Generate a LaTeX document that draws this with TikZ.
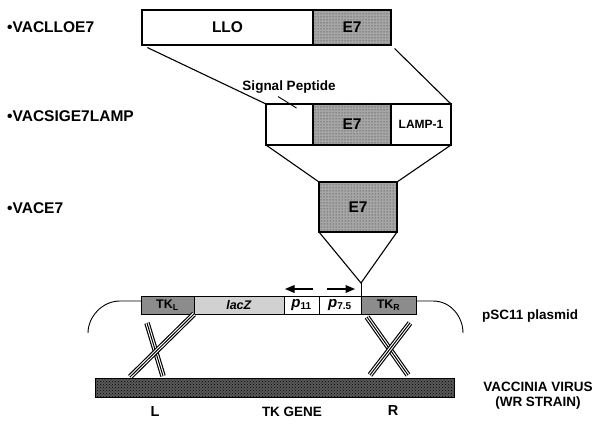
\documentclass[tikz,border=0pt]{standalone}
\usepackage{fontspec}
\setmainfont{Liberation Sans}
\usetikzlibrary{shapes,arrows,positioning,fit,calc,patterns}

\begin{document}
\begin{tikzpicture}[x=1pt,y=-1pt,
    seg/.style={draw,line width=1.1pt,inner sep=0pt,outer sep=0pt,anchor=north west,
                minimum height=35pt,font=\fontsize{15.5}{18}\bfseries},
    e7fill/.style={fill=black!35,postaction={pattern=dots,pattern color=black!85}},
    pseg/.style={draw,line width=0.9pt,inner sep=0pt,outer sep=0pt,anchor=north west,
                 minimum height=18pt,font=\fontsize{12.5}{14}\bfseries},
    zoom/.style={line width=1.1pt},
    tag/.style={anchor=west,inner sep=0pt,font=\fontsize{15.5}{18}\bfseries},
    lab/.style={inner sep=0pt,font=\fontsize{13.5}{16}\bfseries},
    strand/.style={line width=5.5pt,black,
                   postaction={draw,white,line width=3.2pt},
                   postaction={draw,black,line width=1pt}}]
    \useasboundingbox (0,0) rectangle (602,425);

    % constructs
    \foreach \name/\y in {VACLLOE7/27, VACSIGE7LAMP/116, VACE7/208} {
        \node[tag] (lbl-\name) at (7,\y) {\textbullet\name};
    }

    % LLO-E7 fusion
    \node[seg, minimum width=171pt] (llo) at (142,10) {LLO};
    \node[seg, e7fill, minimum width=78pt, right=0pt of llo] (e7a) {E7};

    % signal peptide - E7 - LAMP-1
    \node[seg, minimum width=47pt, minimum height=41pt] (sig) at (266,104) {};
    \node[seg, e7fill, minimum width=78pt, minimum height=41pt, right=0pt of sig] (e7b) {E7};
    \node[seg, minimum width=60pt, minimum height=41pt, right=0pt of e7b,
          font=\fontsize{12}{14}\bfseries] (lamp) {LAMP-1};
    \node[lab] (sigtxt) at (289,87) {Signal Peptide};
    \draw[line width=0.9pt] ($(sigtxt.south)+(-11,3)$) -- ($(sig.north)+(7,4)$);

    % E7 alone
    \node[seg, e7fill, minimum width=78pt, minimum height=50pt] (e7c) at (319,182) {E7};

    \draw[zoom, shorten <=6pt] (llo.south west) -- (sig.north west);
    \draw[zoom, shorten <=5pt] (e7a.south east) -- (lamp.north east);
    \draw[zoom] (sig.south west) -- (e7c.north west);
    \draw[zoom] (lamp.south east) -- (e7c.north east);

    % pSC11
    \node[pseg, fill=black!45, minimum width=53pt] (tkl) at (141,296) {TK\textsubscript{L}};
    \node[pseg, fill=black!18, minimum width=90pt, right=0pt of tkl] (lacz) {\textit{lacZ}};
    \node[pseg, minimum width=35pt, right=0pt of lacz] (p11)
        {\fontsize{15}{16}\selectfont\textit{p}\textsubscript{\fontsize{10}{11}\selectfont 11}};
    \node[pseg, minimum width=42pt, right=0pt of p11] (p75)
        {\fontsize{15}{16}\selectfont\textit{p}\textsubscript{\fontsize{10}{11}\selectfont 7.5}};
    \node[pseg, fill=black!45, minimum width=55pt, right=0pt of p75] (tkr) {TK\textsubscript{R}};

    \coordinate (apex) at (361,283);
    \draw[zoom] (e7c.south west) -- (apex) -- (e7c.south east);
    \draw[line width=0.9pt] (apex) -- (tkr.north west);

    \draw[-triangle 45, line width=1.2pt] ($(p11.north east)+(-6,-7)$) -- ($(p11.north west)+(1,-7)$);
    \draw[-triangle 45, line width=1.2pt] ($(p75.north west)+(8,-7)$) -- ($(p75.north east)+(-6,-7)$);

    \draw[line width=0.9pt] ([yshift=4pt]tkl.west) -- ++(-21,0)
        .. controls +(-18,0) and +(0,-16) .. (88,333);
    \draw[line width=0.9pt] ([yshift=4pt]tkr.east) -- ++(17,0)
        .. controls +(18,0) and +(0,-16) .. (463,333);
    \node[lab, anchor=west] (psc) at (482,316) {pSC11 plasmid};

    % vaccinia TK gene
    \node[draw, fill=black!65, postaction={pattern=crosshatch dots,pattern color=black},
          line width=0.9pt, anchor=north west, inner sep=0pt, outer sep=0pt,
          minimum width=359pt, minimum height=19pt] (virus) at (95,378) {};

    \draw[strand] ($(tkl.south west)+(6,9)$) -- ($(virus.north west)+(68,-2)$);
    \draw[strand] (lacz.south west) -- ($(virus.north west)+(35,-1)$);
    \draw[strand] ($(tkr.south west)+(6,3)$) -- ($(virus.north east)+(-46,-3)$);
    \draw[strand] ($(tkr.south east)+(-6,9)$) -- ($(virus.north east)+(-84,-3)$);

    \node[lab, font=\fontsize{14.5}{16}\bfseries] (lft) at (155,412) {L};
    \node[lab] (tkgene) at (292,412) {TK GENE};
    \node[lab, font=\fontsize{14.5}{16}\bfseries] (rgt) at (393,411) {R};
    \node[lab] (vv) at (538,387) {VACCINIA VIRUS};
    \node[lab] (wr) at (538,403) {(WR STRAIN)};
\end{tikzpicture}
\end{document}
